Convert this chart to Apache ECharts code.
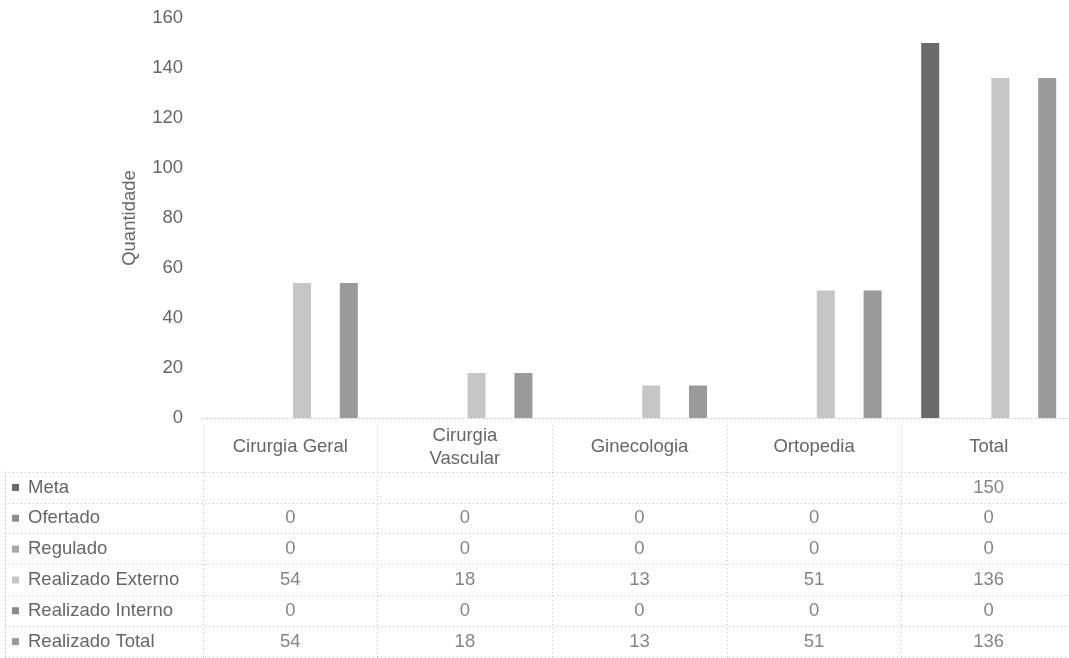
<!DOCTYPE html>
<html><head><meta charset="utf-8">
<script src="https://cdn.jsdelivr.net/npm/echarts@6/dist/echarts.min.js"></script>
<style>html,body{margin:0;padding:0;background:#fff}#c{width:1069px;height:658px}</style>
</head><body><div id="c"></div>
<script>
var categories = ['Cirurgia Geral', 'Cirurgia\nVascular', 'Ginecologia', 'Ortopedia', 'Total'];
var seriesNames = ['Meta', 'Ofertado', 'Regulado', 'Realizado Externo', 'Realizado Interno', 'Realizado Total'];
var meta = [null, null, null, null, 150];
var ofertado = [0, 0, 0, 0, 0];
var regulado = [0, 0, 0, 0, 0];
var realizadoExterno = [54, 18, 13, 51, 136];
var realizadoInterno = [0, 0, 0, 0, 0];
var realizadoTotal = [54, 18, 13, 51, 136];
var yTicks = [0, 20, 40, 60, 80, 100, 120, 140, 160];

var seriesData = [meta, ofertado, regulado, realizadoExterno, realizadoInterno, realizadoTotal];
var colors = ['#6a6a6a', '#8e8e8e', '#a8a8a8', '#c6c6c6', '#8a8a8a', '#9a9a9a'];
var FONT = '"Liberation Sans", Arial, sans-serif';
var FS = 18.5;
var TXT = '#666666';
var dotted = {color: '#c4c4c4', width: 1, type: [1, 3]};

var GL = 203, GW = 873;

var rich = {t: {padding: [0, 0, 0, 9], fontFamily: FONT, fontSize: FS, color: TXT}};
colors.forEach(function (c, i) {
  rich['i' + i] = {width: 7, height: 7, backgroundColor: c};
});

var tableCells = [];
seriesData.forEach(function (arr, r) {
  arr.forEach(function (v, c) {
    if (v !== null && v !== undefined) tableCells.push([c, r, v]);
  });
});

var series = seriesData.map(function (arr, i) {
  return {
    name: seriesNames[i], type: 'bar', xAxisIndex: 0, yAxisIndex: 0,
    data: arr, barWidth: 18, barGap: '30%',
    itemStyle: {color: colors[i]}
  };
});
series.push({
  type: 'scatter', xAxisIndex: 2, yAxisIndex: 2, symbolSize: 1,
  itemStyle: {color: 'transparent'},
  data: tableCells,
  label: {show: true, position: 'inside', formatter: function (p) { return String(p.value[2]); },
    fontFamily: FONT, fontSize: FS, color: TXT},
  silent: true
});

var gb = {outerBoundsMode: 'none', containLabel: false};
var chart = echarts.init(document.getElementById('c'), null, {renderer: 'canvas'});
chart.setOption({
  animation: false,
  backgroundColor: '#fff',
  grid: [
    Object.assign({left: GL, width: GW, top: 18, height: 400}, gb),
    Object.assign({left: GL, width: GW, top: 425, height: 47}, gb),
    Object.assign({left: GL, width: GW, top: 472, height: 185}, gb),
    Object.assign({left: 5, width: GW + GL - 5, top: 472, height: 185}, gb)
  ],
  xAxis: [
    {type: 'category', gridIndex: 0, data: categories,
      axisLine: {show: true, lineStyle: dotted}, axisTick: {show: false},
      axisLabel: {interval: 0, margin: 29, verticalAlign: 'middle', lineHeight: 23,
        fontFamily: FONT, fontSize: FS, color: TXT}},
    {type: 'category', gridIndex: 1, data: categories,
      axisLine: {show: false}, axisTick: {show: false}, axisLabel: {show: false},
      splitLine: {show: true, lineStyle: dotted}},
    {type: 'category', gridIndex: 2, data: categories,
      axisLine: {show: false}, axisTick: {show: false}, axisLabel: {show: false},
      splitLine: {show: true, lineStyle: dotted}},
    {type: 'category', gridIndex: 3, data: ['x'],
      axisLine: {show: false}, axisTick: {show: false}, axisLabel: {show: false},
      splitLine: {show: false}}
  ],
  yAxis: [
    {type: 'value', gridIndex: 0, min: 0, max: 160, interval: 20,
      name: 'Quantidade', nameLocation: 'middle', nameGap: 64, nameRotate: 90,
      nameTextStyle: {fontFamily: FONT, fontSize: FS, color: TXT},
      axisLine: {show: false}, axisTick: {show: false}, splitLine: {show: false},
      axisLabel: {margin: 20, fontFamily: FONT, fontSize: FS, color: TXT,
        formatter: function (v) { return yTicks.indexOf(v) >= 0 ? String(v) : ''; }}},
    {type: 'value', gridIndex: 1, show: false},
    {type: 'category', gridIndex: 2, data: seriesNames, inverse: true,
      axisLine: {show: false}, axisTick: {show: false}, splitLine: {show: false},
      axisLabel: {align: 'left', margin: 191, rich: rich,
        formatter: function (v, i) { return '{i' + i + '|}{t|' + v + '}'; }}},
    {type: 'category', gridIndex: 3, data: seriesNames, inverse: true,
      axisLine: {show: true, lineStyle: dotted}, axisTick: {show: false}, axisLabel: {show: false},
      splitLine: {show: true, lineStyle: dotted}}
  ],
  series: series
});
</script></body></html>
